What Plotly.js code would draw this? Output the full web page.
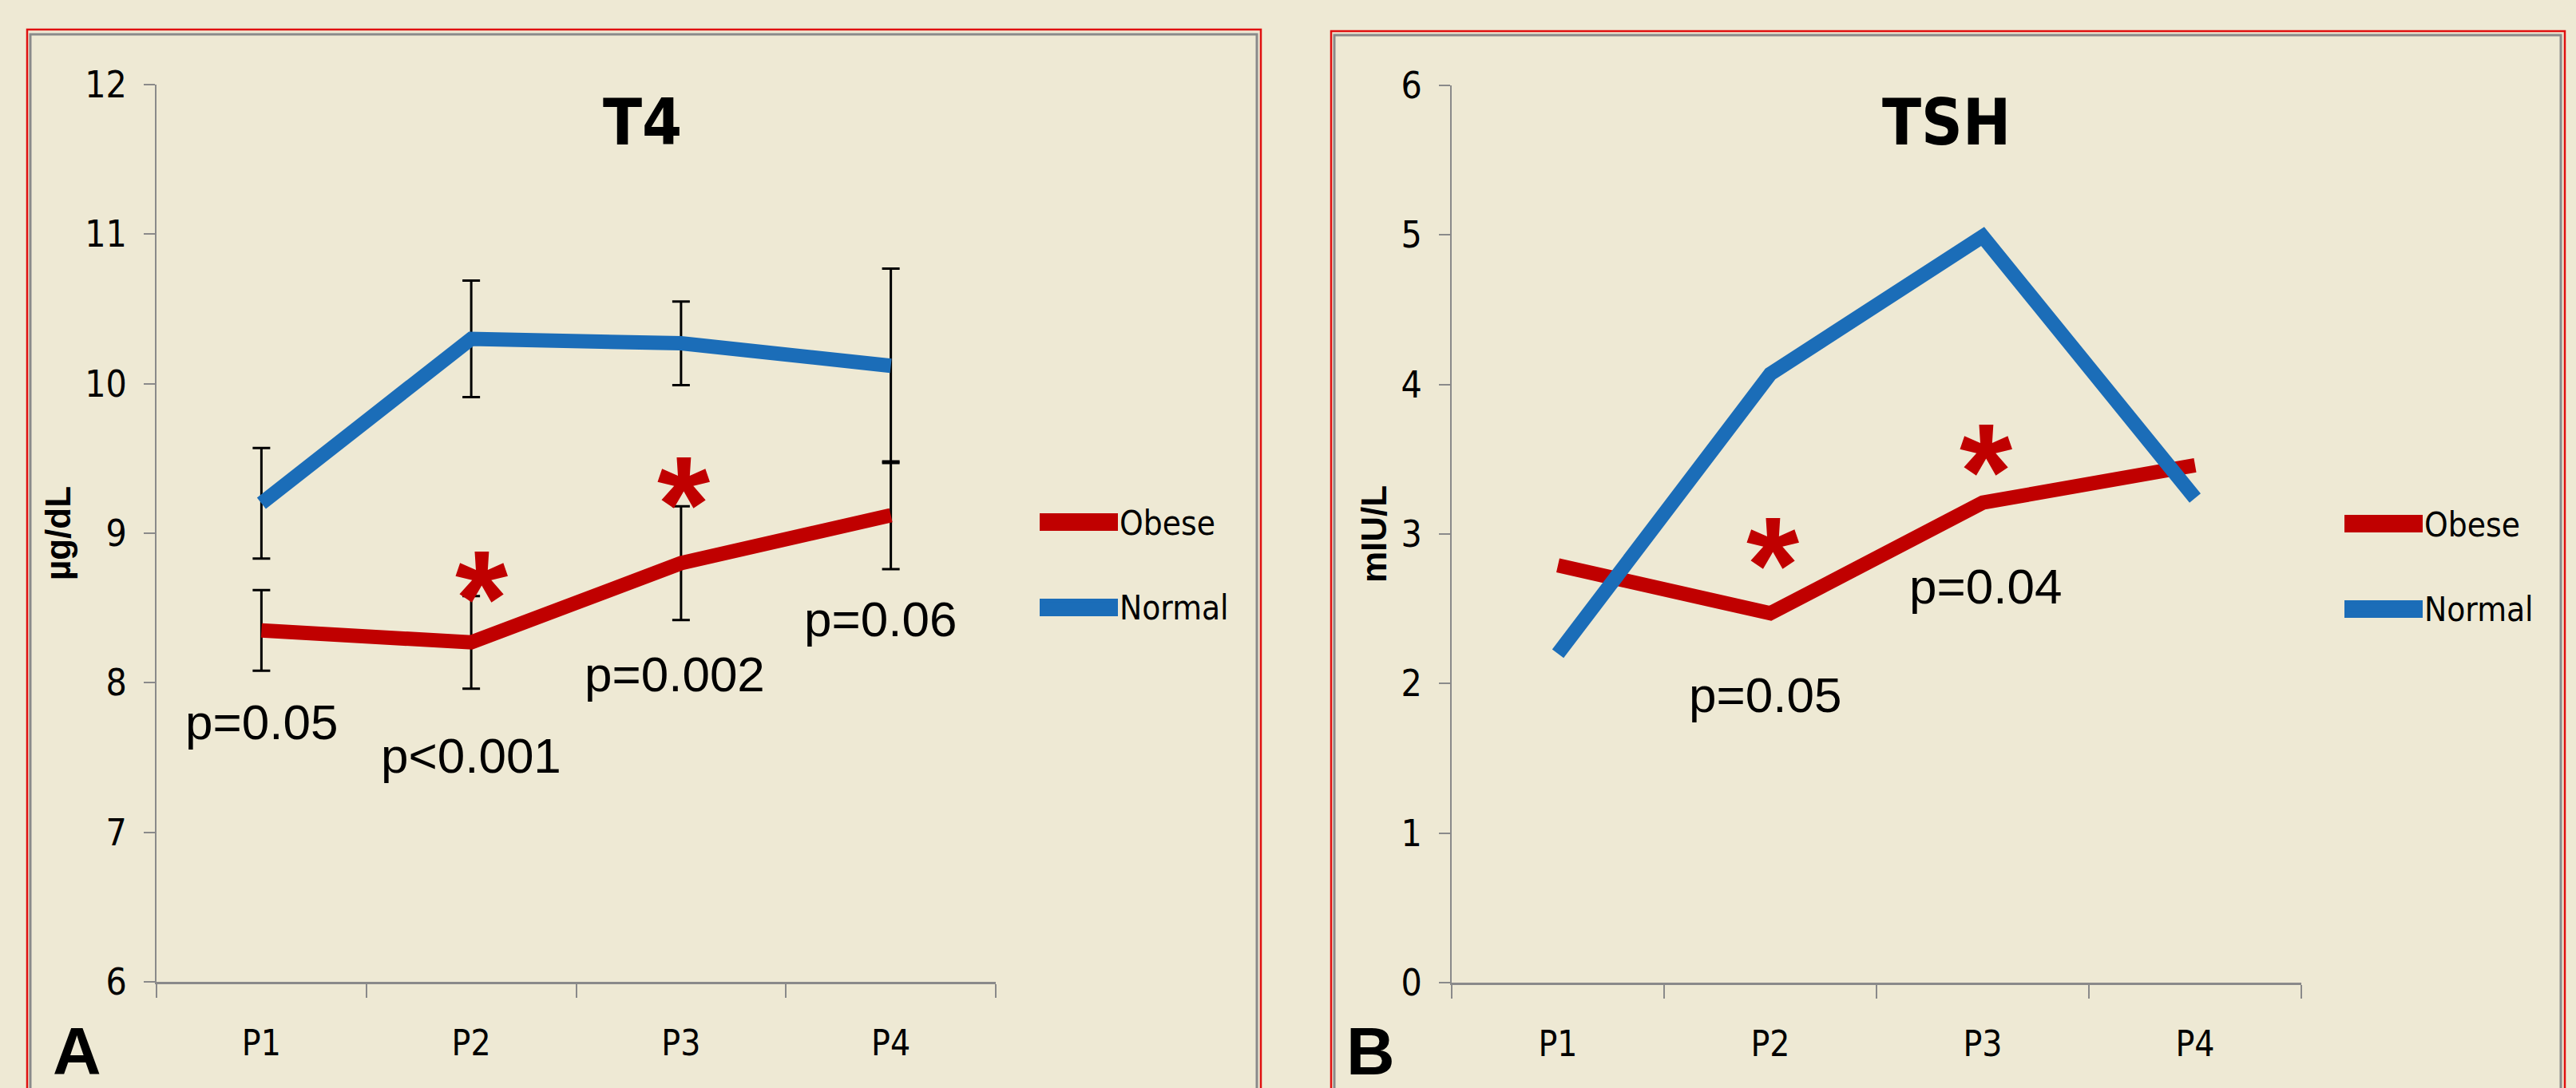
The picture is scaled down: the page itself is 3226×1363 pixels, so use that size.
<!DOCTYPE html>
<html><head><meta charset="utf-8">
<script src="https://cdn.plot.ly/plotly-3.0.1.min.js"></script>
<style>html,body{margin:0;padding:0;background:#EEE9D4;}#chart{width:3226px;height:1363px;}</style>
</head><body><div id="chart"></div>
<script>
// ---- data ----
const periods = ['P1', 'P2', 'P3', 'P4'];
const t4Obese = [8.35, 8.27, 8.80, 9.12];
const t4ObeseErr = [0.27, 0.31, 0.38, 0.36];
const t4Normal = [9.20, 10.30, 10.27, 10.12];
const t4NormalErr = [0.37, 0.39, 0.28, 0.65];
const tshObese = [2.79, 2.47, 3.21, 3.46];
const tshNormal = [2.20, 4.07, 4.99, 3.24];
const t4PValues = ['p=0.05', 'p<0.001', 'p=0.002', 'p=0.06'];
const tshPValues = ['p=0.05', 'p=0.04'];
const seriesNames = ['Obese', 'Normal'];

// ---- styling ----
const W = 3226, H = 1363;
const BG = '#EEE9D4';
const RED = '#C00000', BLUE = '#1B6DB8', GRAY = '#8a8a8a';
const NARROW = '"Liberation Sans Narrow", "DejaVu Sans Condensed", "Liberation Sans", Arial, sans-serif';
const SANS = '"Liberation Sans", Arial, sans-serif';
const fx = p => p / W;
const fy = p => 1 - p / H;

function xAxis(d0, d1, anchor) {
  return {
    domain: [fx(d0), fx(d1)], anchor: anchor, type: 'category', range: [-0.5, 3.5], autorange: false,
    showline: true, linecolor: GRAY, linewidth: 3, mirror: false,
    ticks: 'outside', tickson: 'boundaries', ticklen: 17, tickwidth: 2, tickcolor: GRAY,
    ticklabelstandoff: 36,
    showgrid: false, zeroline: false, fixedrange: true,
    tickfont: {family: NARROW, size: 44, color: '#000'}
  };
}
function yAxis(top, bottom, range, anchor, title) {
  return {
    domain: [fy(bottom), fy(top)], anchor: anchor, range: range, autorange: false, dtick: 1,
    showline: true, linecolor: GRAY, linewidth: 2,
    ticks: 'outside', ticklen: 14, tickwidth: 2, tickcolor: GRAY,
    ticklabelstandoff: 12,
    showgrid: false, zeroline: false, fixedrange: true,
    tickfont: {family: NARROW, size: 46, color: '#000'},
    title: {text: title, standoff: 4, font: {family: SANS, size: 44, color: '#000', weight: 'bold'}}
  };
}

const traces = [
  {x: periods, y: t4Obese, name: seriesNames[0], legendgroup: 'obese', type: 'scatter', mode: 'lines',
   xaxis: 'x', yaxis: 'y', legend: 'legend', line: {color: RED, width: 18},
   error_y: {type: 'data', array: t4ObeseErr, visible: true, color: '#000', thickness: 3, width: 11}},
  {x: periods, y: t4Normal, name: seriesNames[1], legendgroup: 'normal', type: 'scatter', mode: 'lines',
   xaxis: 'x', yaxis: 'y', legend: 'legend', line: {color: BLUE, width: 18},
   error_y: {type: 'data', array: t4NormalErr, visible: true, color: '#000', thickness: 3, width: 11}},
  {x: periods, y: tshObese, name: seriesNames[0], legendgroup: 'obese2', type: 'scatter', mode: 'lines',
   xaxis: 'x2', yaxis: 'y2', legend: 'legend2', line: {color: RED, width: 18}},
  {x: periods, y: tshNormal, name: seriesNames[1], legendgroup: 'normal2', type: 'scatter', mode: 'lines',
   xaxis: 'x2', yaxis: 'y2', legend: 'legend2', line: {color: BLUE, width: 18}}
];

function legendBox(xpx, ypx) {
  return {x: fx(xpx), y: fy(ypx), xanchor: 'left', yanchor: 'top', bgcolor: 'rgba(0,0,0,0)',
          borderwidth: 0, itemwidth: 92, tracegroupgap: 48, traceorder: 'grouped',
          font: {family: NARROW, size: 42, color: '#000'}, itemclick: false, itemdoubleclick: false};
}

const pFont = {family: SANS, size: 62, color: '#000'};
const starFont = {family: SANS, size: 170, color: RED, weight: 'bold'};
function pLabel(text, x, y, xr, yr) {
  return {text: text, x: x, y: y, xref: xr, yref: yr, showarrow: false, xanchor: 'center', yanchor: 'middle', font: pFont};
}
function star(x, y, xr, yr) {
  return {text: '*', x: x, y: y, xref: xr, yref: yr, showarrow: false, xanchor: 'center', yanchor: 'middle', yshift: -27, font: starFont};
}
function paperText(text, xpx, ypx, font, xanchor) {
  return {text: text, x: fx(xpx), y: fy(ypx), xref: 'paper', yref: 'paper', showarrow: false,
          xanchor: xanchor || 'center', yanchor: 'middle', font: font};
}

const annotations = [
  paperText('T4', 804, 153, {family: NARROW, size: 80, color: '#000', weight: 'bold'}),
  paperText('TSH', 2437, 153, {family: NARROW, size: 80, color: '#000', weight: 'bold'}),
  paperText('A', 64, 1317, {family: SANS, size: 84, color: '#000', weight: 'bold'}, 'left'),
  paperText('B', 1684, 1317, {family: SANS, size: 84, color: '#000', weight: 'bold'}, 'left'),
  pLabel(t4PValues[0], 0, 7.735, 'x', 'y'),
  pLabel(t4PValues[1], 1, 7.516, 'x', 'y'),
  pLabel(t4PValues[2], 1.97, 8.056, 'x', 'y'),
  pLabel(t4PValues[3], 2.95, 8.424, 'x', 'y'),
  star(1.05, 8.707, 'x', 'y'),
  star(2.01, 9.337, 'x', 'y'),
  pLabel(tshPValues[0], 0.977, 1.927, 'x2', 'y2'),
  pLabel(tshPValues[1], 2.015, 2.648, 'x2', 'y2'),
  star(1.01, 2.937, 'x2', 'y2'),
  star(2.015, 3.561, 'x2', 'y2')
];

function frame(x0, x1, y0, color, w) {
  return {type: 'rect', xref: 'paper', yref: 'paper', x0: fx(x0), x1: fx(x1), y0: fy(y0), y1: fy(H + 20),
          line: {color: color, width: w}, fillcolor: 'rgba(0,0,0,0)', layer: 'below'};
}
// thick legend swatches (Plotly caps legend line width), placed under the legend's own swatches
function swatch(x0, x1, ypx, color) {
  return {type: 'line', xref: 'paper', yref: 'paper', x0: fx(x0), x1: fx(x1), y0: fy(ypx), y1: fy(ypx),
          line: {color: color, width: 22}, layer: 'above'};
}
const shapes = [
  frame(34, 1579, 37, '#E01010', 2.5),
  frame(38, 1574, 43, GRAY, 3),
  frame(1667, 3212, 39, '#E01010', 2.5),
  frame(1671, 3207, 44, GRAY, 3),
  swatch(1302, 1400, 654, RED),
  swatch(1302, 1400, 761, BLUE),
  swatch(2936, 3034, 656, RED),
  swatch(2936, 3034, 763, BLUE)
];

const layout = {
  width: W, height: H, autosize: false,
  margin: {l: 0, r: 0, t: 0, b: 0, pad: 0},
  paper_bgcolor: BG, plot_bgcolor: 'rgba(0,0,0,0)',
  showlegend: true,
  xaxis: xAxis(196, 1247, 'y'),
  yaxis: yAxis(106, 1230, [6, 12], 'x', 'µg/dL'),
  xaxis2: xAxis(1818, 2882, 'y2'),
  yaxis2: yAxis(107, 1231, [0, 6], 'x2', 'mIU/L'),
  legend: legendBox(1300, 620),
  legend2: legendBox(2934, 622),
  annotations: annotations,
  shapes: shapes
};

Plotly.newPlot('chart', traces, layout, {staticPlot: true, displayModeBar: false});
</script>
</body></html>
